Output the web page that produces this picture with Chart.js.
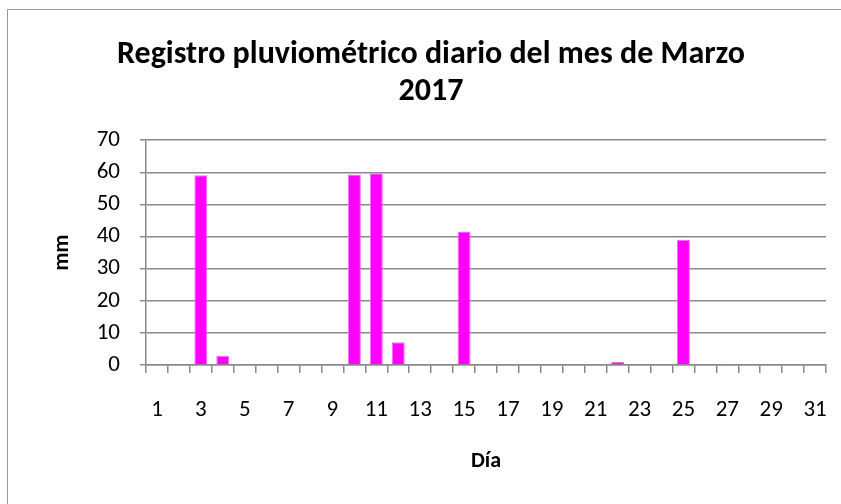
<!DOCTYPE html>
<html>
<head>
<meta charset="utf-8">
<script src="https://cdn.jsdelivr.net/npm/chart.js@4"></script>
<style>
  html, body { margin: 0; padding: 0; background: #fff; overflow: hidden; }
  #wrap { position: relative; width: 841px; height: 504px; }
  #frame { position: absolute; left: 7px; top: 9px; width: 900px; height: 600px;
           border-left: 1.5px solid #999; border-top: 1.5px solid #999; }
  canvas { position: absolute; left: 0; top: 0; }
</style>
</head>
<body>
<div id="wrap">
  <div id="frame"></div>
  <canvas id="rainChart" width="841" height="504"></canvas>
</div>
<script>
// días del mes de marzo
const days = [];
for (let d = 1; d <= 31; d++) days.push(String(d));

// precipitación diaria (mm)
const rainMm = [
    0, 0, 59.1, 2.9, 0, 0, 0, 0, 0.4, 59.3,
    59.7, 7.1, 0, 0, 41.6, 0, 0, 0, 0, 0,
    0, 1.0, 0, 0, 39.0, 0, 0.3, 0, 0, 0,
    0
];

const yTicks = [0, 10, 20, 30, 40, 50, 60, 70];

const fontFamily = "Carlito, Lato, 'Open Sans', sans-serif";
const gridGray = '#8a8a8a';

const ctx = document.getElementById('rainChart').getContext('2d');
new Chart(ctx, {
    type: 'bar',
    data: {
        labels: days,
        datasets: [{
            label: 'mm',
            data: rainMm,
            backgroundColor: '#ff00ff',
            borderColor: '#ff66ff',
            borderWidth: 1,
            categoryPercentage: 1,
            barPercentage: 0.59
        }]
    },
    options: {
        responsive: false,
        animation: false,
        // padding izquierdo para centrar el título como en el original
        layout: { padding: { left: 36, right: 15, top: 0, bottom: 0 } },
        plugins: {
            legend: { display: false },
            tooltip: { enabled: false },
            title: {
                display: true,
                text: ['Registro pluviométrico diario del mes de Marzo', '2017'],
                color: '#000',
                font: { family: fontFamily, size: 32, weight: 'bold', lineHeight: 1.16 },
                padding: { top: 36, bottom: 30 }
            }
        },
        scales: {
            x: {
                afterFit: (scale) => { scale.height = 139; },
                grid: {
                    offset: true,
                    drawOnChartArea: false,
                    drawTicks: true,
                    tickLength: 8,
                    color: gridGray,
                    lineWidth: 1.5
                },
                border: { color: gridGray, width: 1.5 },
                ticks: {
                    autoSkip: false,
                    maxRotation: 0,
                    padding: 2,
                    color: '#000',
                    font: { family: fontFamily, size: 23, lineHeight: 3.04 },
                    callback: (v, i) => (i % 2 === 0 ? days[i] : '')
                },
                title: {
                    display: true,
                    text: 'Día',
                    color: '#000',
                    font: { family: fontFamily, size: 22, weight: 'bold' },
                    padding: { top: 0, bottom: 29 }
                }
            },
            y: {
                min: yTicks[0],
                max: yTicks[yTicks.length - 1],
                afterFit: (scale) => { scale.width = 110; },
                afterBuildTicks: (scale) => { scale.ticks = yTicks.map(v => ({ value: v })); },
                grid: {
                    color: gridGray,
                    lineWidth: 1.5,
                    tickLength: 6
                },
                border: { color: gridGray, width: 1.5 },
                ticks: {
                    padding: 20,
                    color: '#000',
                    font: { family: fontFamily, size: 23 }
                },
                title: {
                    display: true,
                    text: 'mm',
                    color: '#000',
                    font: { family: fontFamily, size: 22, weight: 'bold' },
                    padding: { top: 13, bottom: 0 }
                }
            }
        }
    }
});
</script>
</body>
</html>
